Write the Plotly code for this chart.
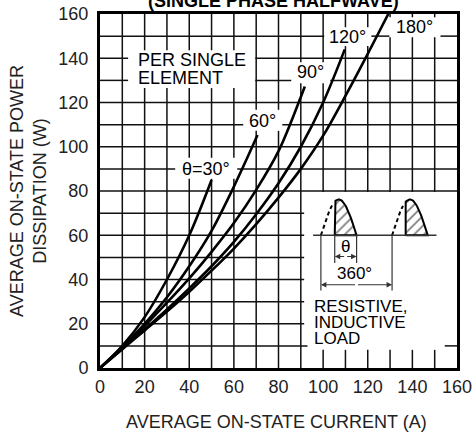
import numpy as np
import plotly.graph_objects as go

# ---- data ----
c30_x = [0, 10, 20, 30, 40, 50]
c30_y = [0, 10, 23, 40, 60, 85]
c60_x = [0, 10, 20, 30, 40, 50, 60, 70.6]
c60_y = [0, 9.5, 20, 32, 46, 62, 82, 105.3]
c90_x = [0, 10, 20, 30, 40, 50, 60, 70, 80, 90, 91.8]
c90_y = [0, 9.2, 19, 29.5, 40.5, 52.5, 65.5, 80.5, 98, 122.5, 127.2]
c120_x = [0, 10, 20, 30, 40, 50, 60, 70, 80, 90, 100, 109.7]
c120_y = [0, 8.8, 17.5, 26.5, 36, 46, 57, 69.5, 83.5, 100, 120, 144]
c180_x = [0, 10, 20, 30, 40, 50, 60, 70, 80, 90, 100, 110, 120, 129.2]
c180_y = [0, 8.5, 17, 25.5, 34.5, 44, 54, 65, 77, 90, 105, 123, 142, 160]

curves = [(c30_x, c30_y), (c60_x, c60_y), (c90_x, c90_y), (c120_x, c120_y), (c180_x, c180_y)]

tick_vals = list(range(0, 161, 10))
tick_text = [str(v) if v % 20 == 0 else "" for v in tick_vals]

# curve labels: text, position, blank box behind (x0, x1, y0, y1)
curve_labels = ["θ=30°", "60°", "90°", "120°", "180°"]
label_x = [47.4, 72.9, 94.3, 111.1, 141.0]
label_y = [90.0, 111.7, 133.6, 149.8, 154.2]
label_box = [(33.7, 61.5, 85.5, 95.0), (64.2, 81.7, 107.2, 116.7), (85.7, 103.2, 128.7, 138.2),
             (100.5, 121.6, 145.5, 154.0), (129.7, 152.6, 149.5, 158.5)]
note_box = (12.6, 69.6, 126.5, 143.6)
inset_boxes = [(91.5, 161.0, 10.6, 79.6), (93.0, 154.5, 8.2, 10.6)]

# inset waveform parameters (data units)
base_y = 60.0
base_x = [95.5, 150.8]
pulse_start = [99.0, 130.9]
pulse_fire = [105.2, 137.0]
half_period = 16.0
pulse_h = 16.2

FONT = "Liberation Sans, Arial, sans-serif"
FS = 18

blank_boxes = label_box + [note_box] + inset_boxes


def visible(lo, hi, cuts):
    segs = [(lo, hi)]
    for a, b in cuts:
        new = []
        for s, e in segs:
            if b <= s or a >= e:
                new.append((s, e))
            else:
                if a > s:
                    new.append((s, a))
                if b < e:
                    new.append((b, e))
        segs = new
    return segs


gx, gy = [], []
for v in tick_vals[1:-1]:
    cuts = [(y0, y1) for (x0, x1, y0, y1) in blank_boxes if x0 < v < x1]
    for s, e in visible(0, 160, cuts):
        gx += [v, v, None]
        gy += [s, e, None]
    cuts = [(x0, x1) for (x0, x1, y0, y1) in blank_boxes if y0 < v < y1]
    for s, e in visible(0, 160, cuts):
        gx += [s, e, None]
        gy += [v, v, None]

fig = go.Figure()
fig.add_trace(go.Scatter(x=gx, y=gy, mode="lines", line=dict(color="#111", width=1.5),
                         hoverinfo="skip", showlegend=False))

for cx, cy in curves:
    fig.add_trace(go.Scatter(x=cx, y=cy, mode="lines", line=dict(color="black", width=2.6, shape="spline"),
                             hoverinfo="skip", showlegend=False))

# inset waveform
for s, f in zip(pulse_start, pulse_fire):
    xs = np.linspace(f, s + half_period, 30)
    ys = base_y + pulse_h * np.sin(np.pi * (xs - s) / half_period)
    px = [f] + list(xs) + [s + half_period, f]
    py = [base_y] + list(ys) + [base_y, base_y]
    fig.add_trace(go.Scatter(x=px, y=py, mode="lines", fill="toself", fillcolor="white",
                             fillpattern=dict(shape="/", fgcolor="black", bgcolor="white", size=7, solidity=0.25),
                             line=dict(color="black", width=2), hoverinfo="skip", showlegend=False))
    xd = np.linspace(s, f - 1.2, 12)
    yd = base_y + pulse_h * np.sin(np.pi * (xd - s) / half_period)
    fig.add_trace(go.Scatter(x=xd, y=yd, mode="lines", line=dict(color="black", width=2, dash="4px,3px"),
                             hoverinfo="skip", showlegend=False))

fig.add_trace(go.Scatter(x=base_x, y=[base_y, base_y], mode="lines", line=dict(color="#333", width=1.5),
                         hoverinfo="skip", showlegend=False))

# dimension extension lines
ext_x = [pulse_fire[0], pulse_fire[0], None, pulse_start[0] + half_period, pulse_start[0] + half_period, None,
         pulse_start[0], pulse_start[0], None, pulse_start[1], pulse_start[1]]
ext_y = [base_y, 47.5, None, base_y, 47.5, None, base_y, 35.0, None, base_y, 35.0]
fig.add_trace(go.Scatter(x=ext_x, y=ext_y, mode="lines", line=dict(color="#333", width=1.2),
                         hoverinfo="skip", showlegend=False))

annotations = []


def dim_arrow(x0, x1, y):
    xm = (x0 + x1) / 2
    for xe in (x0, x1):
        annotations.append(dict(x=xe, y=y, ax=xm, ay=y, xref="x", yref="y", axref="x", ayref="y",
                                text="", showarrow=True, arrowhead=2, arrowsize=1, arrowwidth=1.1,
                                arrowcolor="#333", standoff=0, startstandoff=0))


dim_arrow(pulse_fire[0], pulse_start[0] + half_period, 50.4)
dim_arrow(pulse_start[0], pulse_start[1], 37.6)

annotations.append(dict(x=110.1, y=54.9, xref="x", yref="y", text="θ", showarrow=False,
                        font=dict(size=17, color="black", family=FONT)))
annotations.append(dict(x=114.0, y=42.6, xref="x", yref="y", text="360°", showarrow=False,
                        font=dict(size=17, color="black", family=FONT)))

for t, yy in zip(["RESISTIVE,", "INDUCTIVE", "LOAD"], [27.8, 20.6, 13.4]):
    annotations.append(dict(x=95.0, y=yy, xref="x", yref="y", text=t, showarrow=False, xanchor="left",
                            font=dict(size=17, color="black", family=FONT)))

for t, yy in zip(["PER SINGLE", "ELEMENT"], [139.0, 131.2]):
    annotations.append(dict(x=16.0, y=yy, xref="x", yref="y", text=t, showarrow=False, xanchor="left",
                            font=dict(size=FS, color="black", family=FONT)))

for t, lx, ly in zip(curve_labels, label_x, label_y):
    annotations.append(dict(x=lx, y=ly, xref="x", yref="y", text=t, showarrow=False,
                            font=dict(size=FS, color="black", family=FONT)))

# titles
annotations.append(dict(x=0.5, y=1, xref="paper", yref="paper", yanchor="middle", yshift=13, xshift=-5,
                        text="<b>(SINGLE PHASE HALFWAVE)</b>", showarrow=False,
                        font=dict(size=FS, color="black", family=FONT)))
annotations.append(dict(x=0.5, y=0, xref="paper", yref="paper", yanchor="middle", yshift=-54, xshift=-2,
                        text="AVERAGE ON-STATE CURRENT (A)", showarrow=False,
                        font=dict(size=FS, color="#222", family=FONT)))
annotations.append(dict(x=0, y=0.5, xref="paper", yref="paper", xanchor="center", xshift=-72,
                        text="AVERAGE ON-STATE POWER<br>DISSIPATION (W)", textangle=-90, showarrow=False,
                        font=dict(size=FS, color="#222", family=FONT)))

axis_common = dict(range=[0, 160], tickvals=tick_vals, ticktext=tick_text, showgrid=False,
                   showline=True, linecolor="black", linewidth=3, automargin=False,
                   mirror=True, ticks="", zeroline=False, fixedrange=True,
                   tickfont=dict(size=FS, color="#222", family=FONT))

fig.update_layout(
    width=475, height=436,
    margin=dict(l=100, r=18, t=14, b=68, autoexpand=False),
    paper_bgcolor="white", plot_bgcolor="white",
    xaxis=dict(**axis_common, ticklabelstandoff=0),
    yaxis=dict(**axis_common, ticklabelstandoff=5),
    annotations=annotations,
    showlegend=False,
)

fig.write_html("out.html", config={"displayModeBar": False},
               post_script="document.body.style.margin='0';document.body.style.overflow='hidden';")
